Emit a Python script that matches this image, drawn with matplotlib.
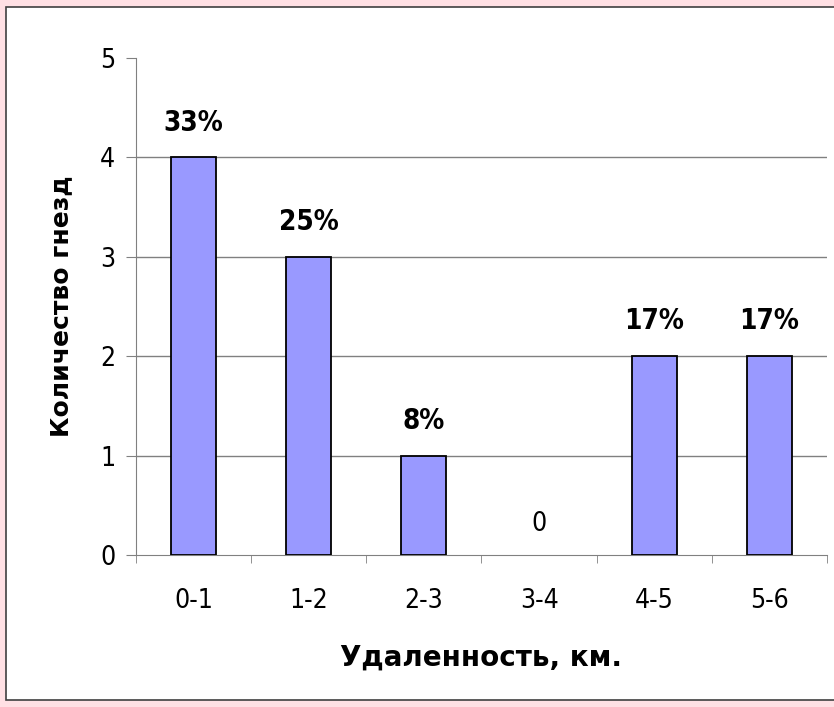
import numpy as np
import matplotlib.pyplot as plt
from matplotlib.patches import Rectangle

categories = ['0-1', '1-2', '2-3', '3-4', '4-5', '5-6']
counts = [4, 3, 1, 0, 2, 2]
labels = ['33%', '25%', '8%', '0', '17%', '17%']

fig = plt.figure(figsize=(8.34, 7.07), dpi=100)
fig.patch.set_facecolor('#FFE0E4')
# white panel with border, kept under the axes
fig.patches.append(Rectangle((6 / 834, 7 / 707), 1.0, 693 / 707, transform=fig.transFigure,
                             facecolor='white', edgecolor='#404040', linewidth=1.2, zorder=-5))

ax = fig.add_axes([136 / 834, 1 - 555 / 707, 691 / 834, 497 / 707])
ax.set_facecolor('none')

x = np.arange(len(categories))
bars = ax.bar(x, counts, width=0.39, color='#9999FF', edgecolor='black', linewidth=1.3, zorder=3)
for b, c in zip(bars, counts):
    if c == 0:
        b.set_visible(False)

for xi, c, lab in zip(x, counts, labels):
    zero = lab == '0'
    ax.annotate(lab, (xi, c), xytext=(0, 22 if zero else 25), textcoords='offset points',
                ha='center', va='center', fontsize=19 if zero else 20, fontstretch='condensed',
                fontweight='normal' if zero else 'bold')

ax.set_xlim(-0.5, len(categories) - 0.5)
ax.set_ylim(0, 5)
ax.set_yticks(range(6))
for y in range(1, 5):
    ax.axhline(y, color='#808080', linewidth=1, zorder=1)

ax.set_xticks(x)
ax.set_xticklabels(categories, fontsize=19, fontstretch='condensed')
for t in ax.get_yticklabels():
    t.set_fontstretch('condensed')
ax.set_xticks(np.arange(-0.5, len(categories) + 0.5, 1), minor=True)
ax.tick_params(axis='x', which='major', length=0, pad=24)
ax.tick_params(axis='x', which='minor', length=6, color='#808080')
ax.tick_params(axis='y', length=7, color='#808080', labelsize=19, pad=8)

for s in ['top', 'right']:
    ax.spines[s].set_visible(False)
ax.spines['left'].set_color('#808080')
ax.spines['bottom'].set_color('#808080')

ax.set_xlabel('Удаленность, км.', fontsize=20, fontweight='bold', labelpad=21)
ax.set_ylabel('Количество гнезд', fontsize=18, fontweight='bold', labelpad=19)

plt.savefig('out.png', dpi=100, facecolor=fig.get_facecolor())
